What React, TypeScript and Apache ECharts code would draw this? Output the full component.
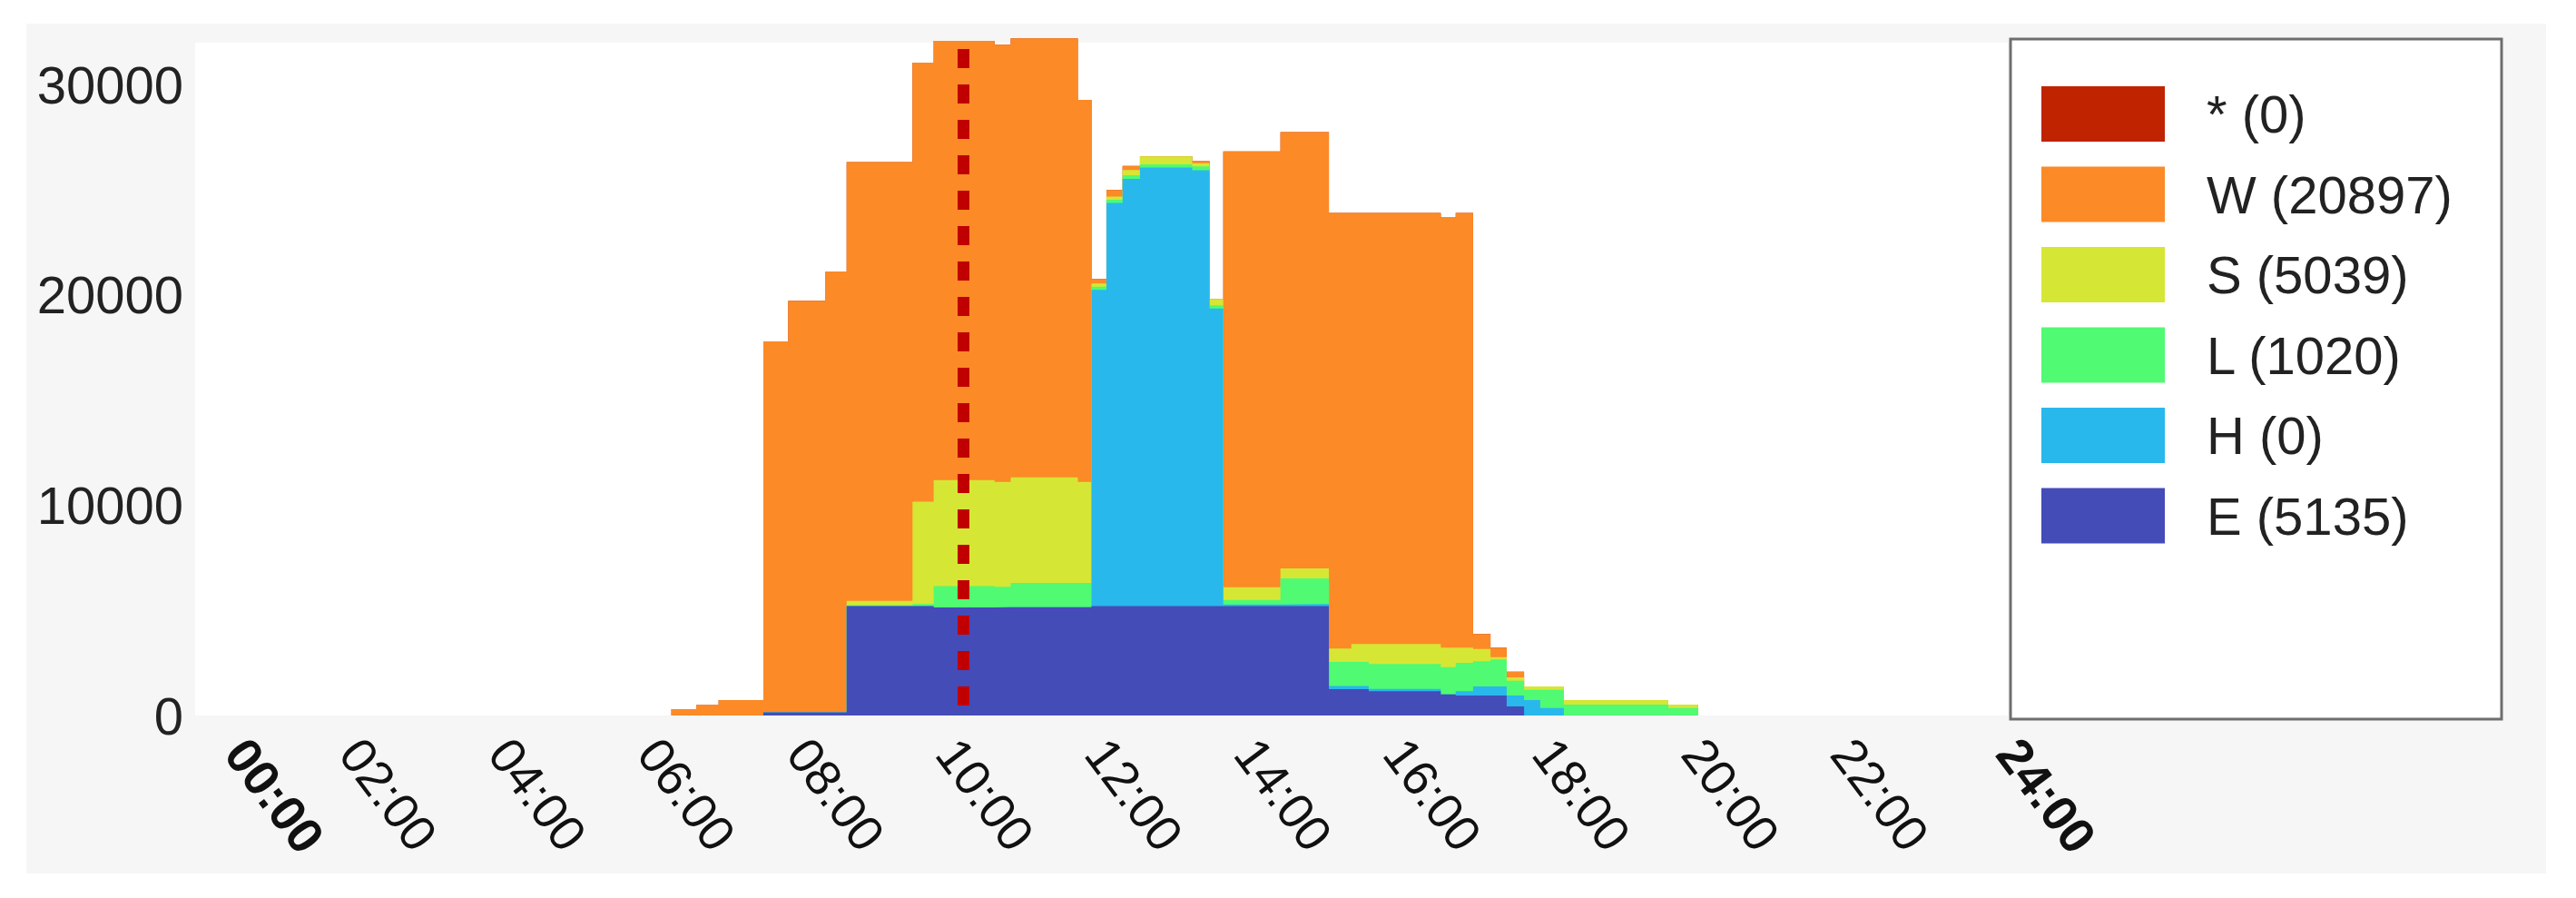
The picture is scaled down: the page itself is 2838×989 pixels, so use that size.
import React, { useEffect, useRef } from "react";
import * as echarts from "echarts";

// ---- data ----
const seriesNames = ["*", "W", "S", "L", "H", "E"];
const seriesCounts = [0, 20897, 5039, 1020, 0, 5135];
const seriesColors = ["#c02300", "#fb8a27", "#d6e635", "#50fa72", "#29b8ec", "#444cb8"];

// start minute of each step (last entry = end of the last step)
const timeMinutes = [378, 398, 416, 452, 472, 502, 519, 572, 589, 638, 651, 705, 716, 728, 741, 755, 797, 811, 822, 868, 907, 925, 939, 997, 1009, 1023, 1037, 1050, 1064, 1077, 1096, 1180, 1204];

const valuesE = [0, 0, 0, 150, 150, 150, 5200, 5200, 5135, 5150, 5150, 5150, 5200, 5200, 5200, 5200, 5200, 5200, 5200, 5200, 1250, 1250, 1160, 1000, 950, 950, 950, 430, 0, 0, 0, 0, 0];
const valuesH = [0, 0, 0, 0, 0, 0, 0, 0, 0, 0, 0, 0, 15040, 19180, 20320, 20860, 20730, 14160, 80, 100, 150, 150, 100, 0, 200, 430, 430, 520, 730, 360, 0, 0, 0];
const valuesL = [0, 0, 0, 0, 0, 0, 50, 100, 1020, 970, 1160, 1160, 150, 150, 170, 150, 190, 150, 220, 1220, 1150, 1150, 1190, 1300, 1360, 1200, 1290, 700, 490, 860, 520, 360, 0];
const valuesS = [0, 0, 0, 0, 0, 0, 200, 4870, 5039, 4990, 5020, 4800, 150, 150, 250, 380, 150, 300, 600, 480, 640, 850, 950, 930, 720, 580, 100, 160, 160, 160, 210, 160, 0];
const valuesW = [300, 500, 730, 17640, 19580, 20965, 20870, 20880, 20897, 20790, 20880, 18170, 220, 310, 200, 0, 90, 0, 20730, 20750, 20710, 20500, 20500, 20460, 20670, 720, 460, 270, 0, 0, 0, 0, 0];
const valuesStar = [0, 0, 0, 0, 0, 0, 0, 0, 0, 0, 0, 0, 0, 0, 0, 0, 0, 0, 0, 0, 0, 0, 0, 0, 0, 0, 0, 0, 0, 0, 0, 0, 0];

const xTickLabels = ["00:00", "02:00", "04:00", "06:00", "08:00", "10:00", "12:00", "14:00", "16:00", "18:00", "20:00", "22:00", "24:00"];
const yTickLabels = [0, 10000, 20000, 30000];
const nowMinute = 613;

const valuesByName: Record<string, number[]> = {
  "*": valuesStar,
  W: valuesW,
  S: valuesS,
  L: valuesL,
  H: valuesH,
  E: valuesE,
};
// bottom -> top of the stack
const stackOrder = ["E", "H", "L", "S", "W", "*"];

const FONT = "'Liberation Sans', Arial, Helvetica, sans-serif";

function legendLabel(i: number) {
  return `${seriesNames[i]} (${seriesCounts[i]})`;
}

export default function App() {
  const ref = useRef<HTMLDivElement>(null);

  useEffect(() => {
    if (!ref.current) return;
    const chart = echarts.init(ref.current, undefined, { renderer: "svg" });

    // cumulative tops of the stack (computed from the arrays above)
    const cumulative: Record<string, number[]> = {};
    let running = timeMinutes.map(() => 0);
    stackOrder.forEach((name) => {
      running = running.map((v, k) => v + valuesByName[name][k]);
      cumulative[name] = running.slice();
    });

    // draw the highest cumulative first so lower layers paint over it
    const drawOrder = stackOrder.slice().reverse();
    const series: any[] = drawOrder.map((name) => {
      const i = seriesNames.indexOf(name);
      const vals = cumulative[name];
      return {
        name: legendLabel(i),
        type: "line",
        step: "end",
        symbol: "none",
        showSymbol: false,
        silent: true,
        clip: false,
        z: 2,
        lineStyle: { width: 0, opacity: 0 },
        itemStyle: { color: seriesColors[i] },
        areaStyle: { color: seriesColors[i], opacity: 1, origin: "start" },
        emphasis: { disabled: true },
        data: timeMinutes.map((t, k) => [t, vals[k]]),
      };
    });

    series[series.length - 1].markLine = {
      silent: true,
      symbol: ["none", "none"],
      z: 10,
      label: { show: false },
      lineStyle: { color: "#c00000", width: 13, type: [21, 18], dashOffset: 28, opacity: 1 },
      emphasis: { disabled: true },
      data: [{ xAxis: nowMinute }],
    };

    const option: any = {
      animation: false,
      backgroundColor: "#ffffff",
      graphic: [
        { type: "rect", z: 0, silent: true, shape: { x: 29, y: 26, width: 2776, height: 936 }, style: { fill: "#f6f6f6" } },
        { type: "rect", z: 0, silent: true, shape: { x: 215, y: 47, width: 1997, height: 741 }, style: { fill: "#ffffff" } },
        { type: "rect", z: 1, silent: true, shape: { x: 2215, y: 43, width: 541, height: 749 }, style: { fill: "#ffffff", stroke: "#6e6e6e", lineWidth: 3 } },
      ],
      grid: { left: 222, right: 2838 - 2194, top: 47, bottom: 989 - 788, containLabel: false },
      xAxis: {
        type: "value",
        min: 0,
        max: 1440,
        interval: 120,
        axisLine: { show: false },
        axisTick: { show: false },
        splitLine: { show: false },
        axisLabel: {
          rotate: -53,
          margin: 32,
          fontFamily: FONT,
          fontSize: 55,
          color: "#111111",
          formatter: (v: number) => {
            const idx = Math.round(v / 120);
            const s = xTickLabels[idx] ?? "";
            if (idx === 0) return `{first|${s}}`;
            if (idx === xTickLabels.length - 1) return `{last|${s}}`;
            return s;
          },
          rich: {
            first: { fontFamily: FONT, fontSize: 55, fontWeight: "bold", color: "#111111", padding: [0, 0, 61, 23] },
            last: { fontFamily: FONT, fontSize: 55, fontWeight: "bold", color: "#111111", padding: [0, 0, 29, 11] },
          },
        },
      },
      yAxis: {
        type: "value",
        min: 0,
        max: 32000,
        interval: 10000,
        axisLine: { show: false },
        axisTick: { show: false },
        splitLine: { show: false },
        axisLabel: {
          margin: 20,
          fontFamily: FONT,
          fontSize: 58,
          color: "#222222",
          showMaxLabel: false,
          formatter: (v: number) => (yTickLabels.includes(v) ? String(v) : ""),
        },
      },
      legend: {
        orient: "vertical",
        left: 2249,
        top: 95,
        padding: 0,
        itemWidth: 136,
        itemHeight: 61,
        itemGap: 27.5,
        icon: "rect",
        selectedMode: false,
        data: seriesNames.map((_, i) => legendLabel(i)),
        itemStyle: { borderWidth: 0 },
        textStyle: {
          fontFamily: FONT,
          fontSize: 58,
          color: "#222222",
          lineHeight: 61,
          padding: [0, 0, 0, 41],
        },
      },
      series,
    };

    chart.setOption(option);
    return () => chart.dispose();
  }, []);

  return (
    <div
      ref={ref}
      style={{ position: "fixed", left: 0, top: 0, width: 2838, height: 989, background: "#ffffff" }}
    />
  );
}
